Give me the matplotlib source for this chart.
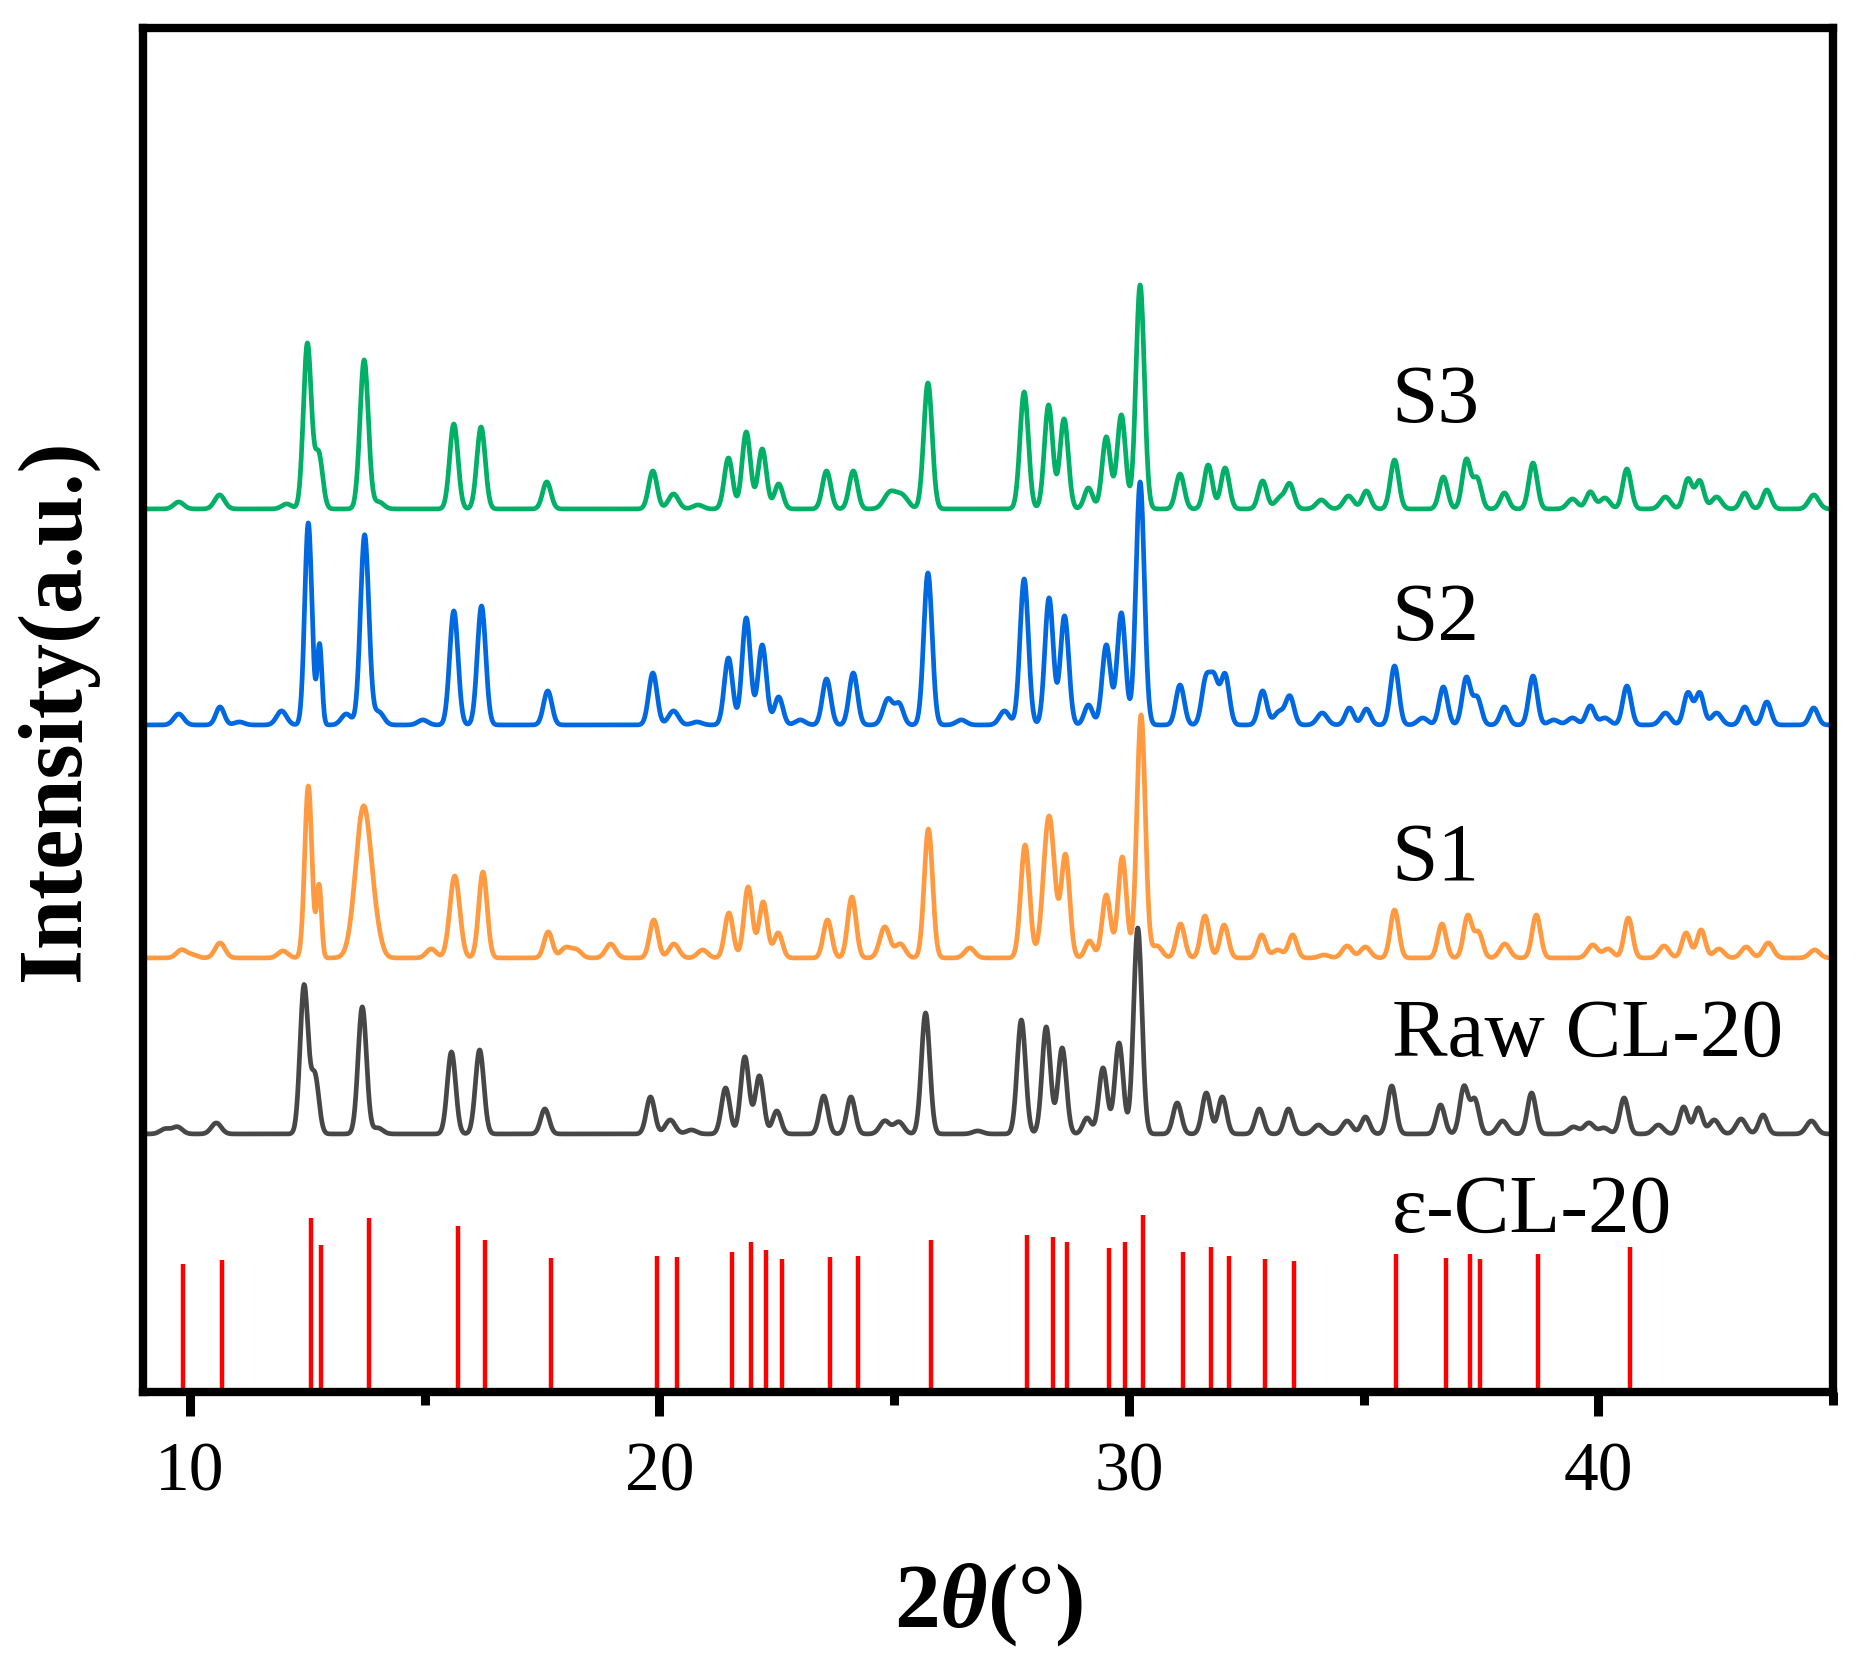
import numpy as np
import matplotlib
matplotlib.use('Agg')
import matplotlib.pyplot as plt
from matplotlib.ticker import MultipleLocator

plt.rcParams['font.family'] = ['Liberation Serif', 'DejaVu Serif']
plt.rcParams['mathtext.fontset'] = 'custom'
plt.rcParams['mathtext.rm'] = 'Liberation Serif:bold'
plt.rcParams['mathtext.it'] = 'Liberation Serif:bold:italic'

# peak lists (2theta in deg, height in arbitrary units)
s3_pos = [9.76, 10.63, 12.06, 12.50, 12.74, 13.71, 14.02, 15.62, 16.20, 17.60,
          19.86, 20.30, 20.82, 21.47, 21.85, 22.19, 22.54, 23.56, 24.13, 24.91,
          25.17, 25.72, 27.77, 28.29, 28.62, 29.14, 29.52, 29.84, 30.24, 31.09,
          31.69, 32.05, 32.85, 33.22, 33.43, 34.10, 34.68, 35.06, 35.66, 36.70,
          37.19, 37.42, 38.00, 38.61, 39.45, 39.83, 40.14, 40.61, 41.43, 41.91,
          42.16, 42.52, 43.12, 43.59, 44.59]
s3_hgt = [7, 14, 5, 165, 55, 149, 7, 85, 82, 27,
          38, 15, 4, 51, 77, 60, 25, 38, 38, 16,
          13, 126, 117, 104, 90, 21, 72, 94, 224, 35,
          44, 41, 28, 11, 24, 9, 13, 18, 49, 32,
          49, 30, 16, 46, 10, 17, 11, 40, 12, 30,
          28, 12, 16, 19, 14]

s2_pos = [9.76, 10.64, 11.05, 11.95, 12.52, 12.76, 13.33, 13.72, 14.02, 14.96,
          15.62, 16.21, 17.62, 19.86, 20.30, 20.80, 21.47, 21.85, 22.19, 22.54,
          23.00, 23.56, 24.13, 24.87, 25.11, 25.72, 26.43, 27.35, 27.77, 28.30,
          28.63, 29.14, 29.52, 29.84, 30.24, 31.09, 31.64, 31.82, 32.05, 32.85,
          33.20, 33.43, 34.12, 34.70, 35.06, 35.66, 36.26, 36.70, 37.19, 37.42,
          38.00, 38.61, 39.05, 39.45, 39.83, 40.14, 40.61, 41.43, 41.91, 42.16,
          42.52, 43.12, 43.59, 44.59]
s2_hgt = [11, 18, 3, 14, 202, 80, 11, 190, 13, 5,
          114, 119, 34, 52, 14, 3, 67, 107, 80, 28,
          5, 46, 52, 26, 20, 152, 5, 14, 146, 127,
          109, 20, 80, 112, 243, 40, 44, 44, 50, 34,
          13, 28, 12, 17, 16, 59, 7, 38, 47, 27,
          18, 49, 5, 7, 19, 7, 39, 12, 32, 32,
          12, 18, 23, 17]

s1_pos = [9.82, 10.05, 10.64, 11.98, 12.52, 12.75, 13.70, 14.00, 15.14, 15.64,
          16.24, 17.63, 18.00, 18.23, 18.96, 19.88, 20.31, 20.92, 21.48, 21.89,
          22.21, 22.53, 23.58, 24.10, 24.80, 25.13, 25.73, 26.61, 27.79, 28.30,
          28.65, 29.16, 29.52, 29.86, 30.26, 30.60, 31.10, 31.62, 32.03, 32.83,
          33.17, 33.49, 34.16, 34.65, 35.04, 35.66, 36.67, 37.22, 37.45, 38.01,
          38.68, 39.88, 40.21, 40.64, 41.40, 41.87, 42.19, 42.57, 43.15, 43.62,
          44.61]
s1_hgt = [8, 3, 15, 7, 172, 72, 152, 8, 9, 82,
          86, 26, 10, 8, 14, 38, 14, 8, 45, 71,
          56, 25, 38, 61, 31, 14, 129, 10, 113, 142,
          102, 17, 63, 101, 243, 12, 34, 42, 33, 23,
          8, 23, 3, 12, 11, 48, 34, 42, 25, 14,
          43, 13, 9, 40, 12, 25, 28, 9, 11, 15,
          8]

raw_pos = [9.47, 9.73, 10.56, 12.43, 12.66, 13.67, 14.00, 15.57, 16.17, 17.56,
           19.81, 20.23, 20.68, 21.41, 21.82, 22.13, 22.50, 23.50, 24.08, 24.80,
           25.10, 25.67, 26.78, 27.71, 28.24, 28.58, 29.11, 29.45, 29.79, 30.19,
           31.03, 31.65, 31.99, 32.78, 33.40, 34.04, 34.65, 35.04, 35.60, 36.64,
           37.14, 37.37, 37.96, 38.58, 39.47, 39.80, 40.12, 40.55, 41.28, 41.82,
           42.13, 42.47, 43.04, 43.51, 44.54]
raw_hgt = [5, 7, 11, 148, 58, 127, 6, 82, 84, 25,
           37, 14, 4, 46, 77, 58, 23, 38, 37, 13,
           12, 121, 3, 114, 107, 86, 16, 66, 91, 206,
           31, 41, 37, 25, 25, 9, 13, 17, 48, 29,
           47, 34, 13, 41, 7, 11, 6, 36, 9, 27,
           26, 14, 15, 19, 13]

# peaks with a width (FWHM, deg) different from the default
s3_wid = {12.50: 0.2, 12.74: 0.2, 24.91: 0.3, 25.17: 0.3}
s2_wid = {12.52: 0.18, 12.76: 0.12, 24.87: 0.25}
s1_wid = {12.52: 0.18, 12.75: 0.12, 13.70: 0.40, 15.64: 0.25,
          27.79: 0.22, 28.30: 0.28, 24.80: 0.25}
raw_wid = {12.43: 0.2, 12.66: 0.2}

# reference pattern (epsilon-CL-20)
ref_pos = [9.85, 10.69, 12.57, 12.80, 13.82, 15.70, 16.28, 17.69, 19.94, 20.37,
           21.54, 21.95, 22.26, 22.61, 23.64, 24.22, 25.78, 27.84, 28.39, 28.69,
           29.58, 29.92, 30.31, 31.16, 31.74, 32.13, 32.91, 33.51, 35.69, 36.75,
           37.26, 37.49, 38.71, 40.67]
ref_hgt = [128, 132, 174, 147, 174, 166, 152, 134, 136, 135,
           140, 150, 142, 133, 135, 136, 152, 157, 155, 150,
           144, 150, 177, 140, 145, 136, 133, 131, 138, 134,
           138, 133, 138, 145]

names = ['S3', 'S2', 'S1', 'Raw CL-20']
offsets = [883, 667, 434, 258]
colors = ['#00B066', '#0068E0', '#FF9A40', '#474747']


def pattern(x, pos, hgt, wid, default=0.21):
    y = np.zeros_like(x)
    for p, h in zip(pos, hgt):
        w = wid.get(p, default if h > 15 else 0.25)
        y += h * np.exp(-4 * np.log(2) * ((x - p) / w) ** 2)
    return y


x = np.linspace(9.0, 45.0, 3601)
series = [(s3_pos, s3_hgt, s3_wid), (s2_pos, s2_hgt, s2_wid),
          (s1_pos, s1_hgt, s1_wid), (raw_pos, raw_hgt, raw_wid)]

fig = plt.figure(figsize=(18.75, 16.64), dpi=100)
ax = fig.add_axes([0.0763, 0.1635, 0.9013, 0.8197])

for (pos, hgt, wid), off, col in zip(series, offsets, colors):
    ax.plot(x, off + pattern(x, pos, hgt, wid), color=col, lw=3.4)

ax.vlines(ref_pos, 0, ref_hgt, color='#FF0000', lw=3.2)

label_y = [970, 752, 512, 336]
for name, ly in zip(names, label_y):
    ax.text(35.6, ly, name, fontsize=60, ha='left', va='baseline')
ax.text(35.6, 160, '\u03b5-CL-20', fontsize=60, ha='left', va='baseline')

ax.set_xlim(9, 45)
ax.set_ylim(0, 1364)
ax.xaxis.set_major_locator(MultipleLocator(10))
ax.xaxis.set_minor_locator(MultipleLocator(5))
ax.tick_params(axis='x', which='major', direction='out', length=17, width=6.5,
               labelsize=50, pad=19)
ax.tick_params(axis='x', which='minor', direction='out', length=9, width=6.5)
ax.tick_params(axis='y', left=False, labelleft=False)
for sp in ax.spines.values():
    sp.set_linewidth(6)

ax.set_xlabel('2$\\mathit{\u03b8}$(°)', fontsize=66, fontweight='bold', labelpad=40)
ax.set_ylabel('Intensity(a.u.)', fontsize=65, fontweight='bold')
ax.yaxis.set_label_coords(-0.0266, 0.5)

fig.savefig('out.png', dpi=100)
